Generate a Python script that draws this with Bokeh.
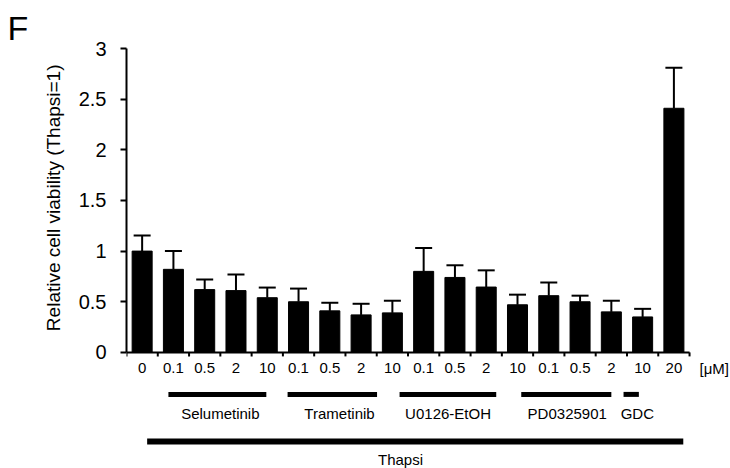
from bokeh.plotting import figure
from bokeh.models import ColumnDataSource, Range1d, FixedTicker, Whisker, TeeHead, Title
from bokeh.core.properties import value
from bokeh.embed import file_html
from bokeh.resources import INLINE

# ---------------- data ----------------
conc_labels = ["0", "0.1", "0.5", "2", "10", "0.1", "0.5", "2", "10",
               "0.1", "0.5", "2", "10", "0.1", "0.5", "2", "10", "20"]
viability = [1.00, 0.82, 0.62, 0.61, 0.54, 0.50, 0.41, 0.37, 0.39,
             0.80, 0.74, 0.645, 0.47, 0.56, 0.50, 0.40, 0.35, 2.41]
sd_upper = [0.155, 0.18, 0.10, 0.16, 0.10, 0.13, 0.08, 0.11, 0.12,
            0.23, 0.12, 0.165, 0.10, 0.13, 0.06, 0.11, 0.08, 0.40]
group_names = ["Selumetinib", "Trametinib", "U0126-EtOH", "PD0325901", "GDC"]
outer_group = "Thapsi"
unit_label = "[\u03bcM]"
y_ticks = [0, 0.5, 1, 1.5, 2, 2.5, 3]
y_tick_labels = ["0", "0.5", "1", "1.5", "2", "2.5", "3"]
y_title = "Relative cell viability (Thapsi=1)"
panel_letter = "F"

# ---------------- layout constants ----------------
FONT = "Liberation Sans"
W, H = 730, 468
FRAME_LEFT = 126
FRAME_TOP = 48
PX_PER_X = 31.28          # pixels per category
PX_PER_Y = 101.3          # pixels per unit of viability
Y_MAX = 3
Y_MIN = Y_MAX - (H - FRAME_TOP) / PX_PER_Y
X_MAX = (W - FRAME_LEFT) / PX_PER_X

def below(px):
    """data y for a point px pixels below the x axis"""
    return -px / PX_PER_Y

# bracket lines (data x extents) and label centres
group_line_x0 = [1.34, 5.15, 8.73, 12.62, 15.89]
group_line_x1 = [4.47, 8.01, 11.82, 15.50, 16.38]
group_label_x = [3.00, 6.81, 10.28, 14.09, 16.33]
outer_line_x = (0.66, 17.80)
outer_label_x = 8.76

n = len(viability)
centers = [i + 0.5 for i in range(n)]
upper = [v + e for v, e in zip(viability, sd_upper)]
src = ColumnDataSource(dict(x=centers, top=viability, upper=upper, lab=conc_labels))

p = figure(width=W, height=H, output_backend="svg", toolbar_location=None,
           x_range=Range1d(0, X_MAX), y_range=Range1d(Y_MIN, Y_MAX),
           x_axis_location=None, min_border_left=FRAME_LEFT, min_border_right=0,
           min_border_top=FRAME_TOP, min_border_bottom=0)
p.outline_line_color = None
p.grid.visible = False
p.background_fill_color = "white"
p.border_fill_color = "white"

# panel letter
p.title.text = panel_letter
p.title.text_font = FONT
p.title.text_font_size = "34px"
p.title.text_font_style = "normal"
p.title.text_color = "black"
p.title.align = "left"
p.title.offset = -119
p.title.standoff = 4

# y axis
ya = p.yaxis[0]
ya.bounds = (0, Y_MAX)
ya.ticker = FixedTicker(ticks=y_ticks, minor_ticks=[])
ya.major_label_overrides = {t: l for t, l in zip(y_ticks, y_tick_labels)}
ya.axis_line_width = 2
ya.major_tick_line_width = 2
ya.major_tick_out = 6
ya.major_tick_in = 0
ya.minor_tick_line_color = None
ya.major_label_text_font = FONT
ya.major_label_text_font_size = "20px"
ya.major_label_text_color = "black"
ya.major_label_standoff = 14

# y axis title as a left-side title, its top end placed near the top of the axis
p.add_layout(Title(text=y_title, align="right", offset=16, standoff=24,
                   vertical_align="bottom", text_font=FONT, text_font_size="19px",
                   text_font_style="normal", text_color="black"), "left")

# bars
p.vbar(x="x", top="top", bottom=0, width=0.64, source=src,
       fill_color="black", line_color="black")
# error bars (upper only)
p.add_layout(Whisker(source=src, base="x", upper="upper", lower="top",
                     line_width=2, line_color="black", lower_head=None,
                     upper_head=TeeHead(size=17, line_width=2, line_color="black")))

# x axis drawn at y = 0
p.segment(x0=[0], x1=[n], y0=[0], y1=[0], line_width=2, line_color="black")
p.segment(x0=list(range(n + 1)), x1=list(range(n + 1)),
          y0=[0] * (n + 1), y1=[below(4)] * (n + 1), line_width=2, line_color="black")
p.text(x="x", y=0, text="lab", source=src, y_offset=16,
       text_align="center", text_baseline="middle",
       text_font=value(FONT), text_font_size="15px", text_color="black")
p.text(x=[18.32], y=[0], text=[unit_label], y_offset=16,
       text_align="left", text_baseline="middle",
       text_font=value(FONT), text_font_size="15px", text_color="black")

# group brackets
gy = below(42)
p.segment(x0=group_line_x0, x1=group_line_x1, y0=[gy] * len(group_names), y1=[gy] * len(group_names),
          line_width=5, line_color="black", line_cap="butt")
p.text(x=group_label_x, y=[0] * len(group_names), text=group_names, y_offset=61,
       text_align="center", text_baseline="middle",
       text_font=value(FONT), text_font_size="15px", text_color="black")
oy = below(89)
p.segment(x0=[outer_line_x[0]], x1=[outer_line_x[1]], y0=[oy], y1=[oy],
          line_width=6, line_color="black", line_cap="butt")
p.text(x=[outer_label_x], y=[0], text=[outer_group], y_offset=107,
       text_align="center", text_baseline="middle",
       text_font=value(FONT), text_font_size="15px", text_color="black")

open("out.html", "w").write(file_html(p, INLINE))
